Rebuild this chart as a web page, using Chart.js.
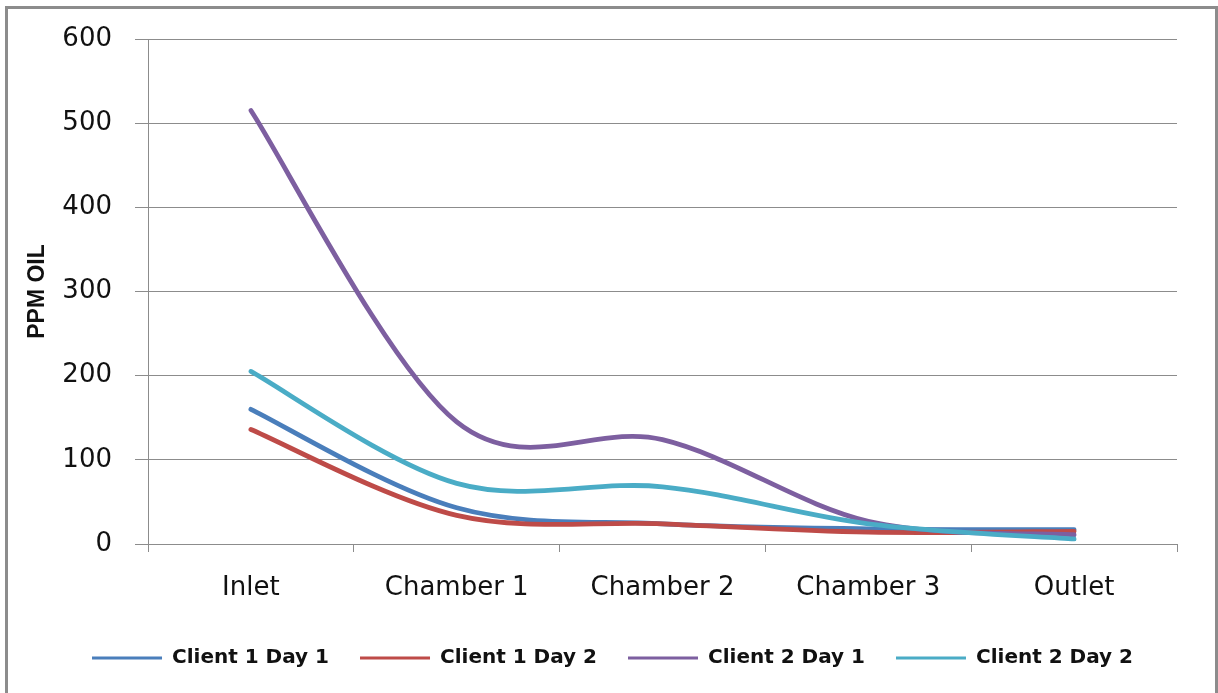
<!DOCTYPE html>
<html>
<head>
<meta charset="utf-8">
<style>
  html, body { margin: 0; padding: 0; background: #ffffff; }
  #wrap { width: 1218px; height: 693px; position: relative; }
</style>
<script src="https://cdn.jsdelivr.net/npm/chart.js@4/dist/chart.umd.min.js"></script>
</head>
<body>
<div id="wrap"><canvas id="chart" width="1218" height="693"></canvas></div>
<script>
// Sampling stations along the separator
const stations = ['Inlet', 'Chamber 1', 'Chamber 2', 'Chamber 3', 'Outlet'];

// Oil concentration (ppm) at each station
const client1Day1 = [160, 43, 24, 18, 17];
const client1Day2 = [136, 34, 24, 14, 15];
const client2Day1 = [515, 145, 124, 27, 11];
const client2Day2 = [205, 72, 68, 24, 6];

const seriesNames = ['Client 1 Day 1', 'Client 1 Day 2', 'Client 2 Day 1', 'Client 2 Day 2'];
const seriesColors = ['#4a7ebb', '#be4b48', '#7d5fa0', '#4aacc6'];

// y-axis ticks
const yMin = 0, yMax = 600, yStep = 100;

const GRID = '#8c8c8c';

// Smooth curves using uniform Catmull-Rom control points (1/6 of neighbour span)
const smoothCurves = {
  id: 'smoothCurves',
  beforeDatasetsDraw(chart) {
    chart.data.datasets.forEach((ds, i) => {
      const meta = chart.getDatasetMeta(i);
      const line = meta.dataset;
      if (!line) return;
      line.updateControlPoints(chart.chartArea, meta.iScale ? meta.iScale.axis : 'x');
      const pts = meta.data;
      for (let k = 0; k < pts.length; k++) {
        const p = pts[k];
        const prev = pts[k - 1] || p;
        const next = pts[k + 1] || p;
        const dx = (next.x - prev.x) / 6;
        const dy = (next.y - prev.y) / 6;
        p.cp1x = p.x - dx; p.cp1y = p.y - dy;
        p.cp2x = p.x + dx; p.cp2y = p.y + dy;
      }
      line._path = undefined;
    });
  }
};

// Outer frame around the whole chart
const chartFrame = {
  id: 'chartFrame',
  afterDraw(chart) {
    const ctx = chart.ctx;
    ctx.save();
    ctx.strokeStyle = '#8c8c8c';
    ctx.lineWidth = 3;
    ctx.strokeRect(6.5, 7.5, 1210, 700);
    ctx.restore();
  }
};

const sources = [client1Day1, client1Day2, client2Day1, client2Day2];
const datasets = sources.map((vals, i) => ({
  label: seriesNames[i],
  data: vals,
  borderColor: seriesColors[i],
  backgroundColor: seriesColors[i],
  borderWidth: 4.8,
  borderCapStyle: 'round',
  borderJoinStyle: 'round',
  pointRadius: 0,
  pointHoverRadius: 0,
  tension: 0.4,
  fill: false,
  order: sources.length - i
}));

new Chart(document.getElementById('chart'), {
  type: 'line',
  data: { labels: stations, datasets },
  plugins: [smoothCurves, chartFrame],
  options: {
    responsive: false,
    animation: false,
    devicePixelRatio: 1,
    layout: { padding: { left: 48, right: 41, top: 39, bottom: 15 } },
    plugins: {
      tooltip: { enabled: false },
      legend: {
        position: 'bottom',
        labels: {
          boxWidth: 70,
          boxHeight: 3,
          padding: 31,
          color: '#111111',
          font: { family: 'DejaVu Sans', size: 20, weight: 'bold' },
          sort: (a, b) => a.datasetIndex - b.datasetIndex,
          generateLabels(chart) {
            const items = Chart.defaults.plugins.legend.labels.generateLabels(chart);
            items.forEach(it => {
              it.fillStyle = seriesColors[it.datasetIndex];
              it.strokeStyle = seriesColors[it.datasetIndex];
              it.lineWidth = 0;
            });
            return items;
          }
        }
      }
    },
    scales: {
      x: {
        type: 'category',
        offset: true,
        afterFit(scale) { scale.height = 73; },
        grid: {
          offset: true,
          drawOnChartArea: false,
          drawTicks: true,
          tickLength: 8,
          color: GRID,
          lineWidth: 1
        },
        border: { color: GRID, width: 1 },
        ticks: {
          color: '#111111',
          padding: 21,
          maxRotation: 0,
          autoSkip: false,
          font: { family: 'DejaVu Sans', size: 26 }
        }
      },
      y: {
        min: yMin,
        max: yMax,
        afterFit(scale) { scale.width = 100; },
        grid: {
          color: GRID,
          lineWidth: 1,
          tickLength: 13,
          drawTicks: true
        },
        border: { color: GRID, width: 1 },
        ticks: {
          stepSize: yStep,
          color: '#111111',
          padding: 23,
          font: { family: 'DejaVu Sans', size: 26 }
        },
        title: {
          display: true,
          text: 'PPM OIL',
          color: '#111111',
          padding: { top: -24, bottom: 0 },
          font: { family: 'Liberation Sans', size: 23, weight: 'bold' }
        }
      }
    }
  }
});
</script>
</body>
</html>
